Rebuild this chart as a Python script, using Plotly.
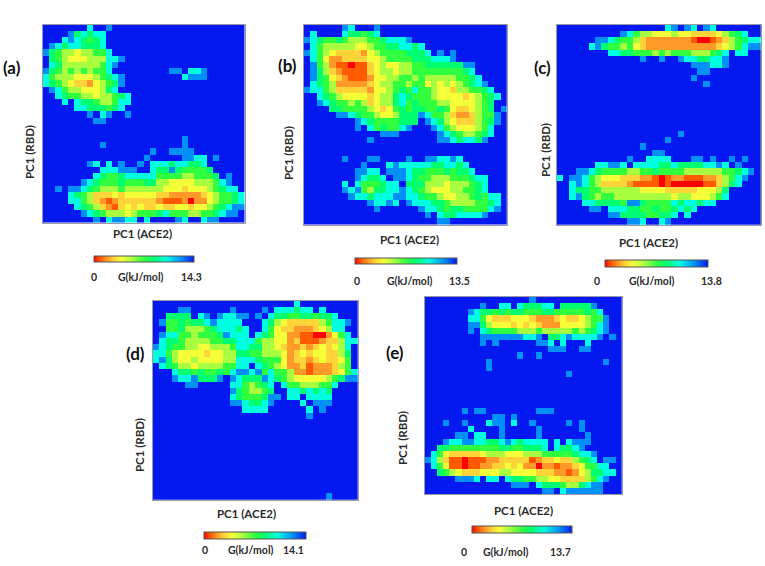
import plotly.graph_objects as go

W, H = 765, 566

# Free-energy maps: one character per cell, rows from the top.
# digits are energy bands (0 = lowest), '.' = the highest band.
PANEL_A = [
".......8..9","....978788","...8987678",".987887778","97655455668",".765444555889",".87555555689",
"97656565668.........99.889","8655544456789.........8999","8765433245679",".98655444578","..876655455678",
"...8.877655688",".....88777678",".......9.89..9","........99","","",
"......................9",".........9............9",".................9..9999","................9.....9988.9",
".......98.8.9..9.888788778",".........888999..8779766667","........87667888886666556667.9",
"......987666766677554444555689","..9.998765556555555444344456788","....8765333434444433222223456678",
"....8865321233333321112022456678",".....876532134343343344344567899","......9876555456667866655667899","........9.89988.8....98..899",
]
PANEL_B = [
"......98...9",".8....877678","98766765556678889",".865555544566778878","98654333324566667778.9.9",
".86422333344566667778889",".96521101134544556677777799",".97532111134554556666666678",
".976432111244556656555556678",".8765222223455665664545456789","988653333324456768665443556678",
"..87654444345578766654444345678","..9876656534557867666554444567","....77666654346767766764334567.9",
".....99876654457779866532235669","........9876666777.987543335679","........9.8676689...98654445 68".replace(" ",""),
"............999......9876556 78".replace(" ",""),"..........9..........99878879","","",
"......9...99....9..998898","................".replace("."*16,".........9...8988888778878"),"........9988.99987766676778",
"........98778.998766555666788","......8.8666788.7775554555678","......98965778898765444556678",
".......988788899887665445567688","..........98898.988877655556678","...........9......9887677666689",
"...................9.87788889",".....................99",
]
PANEL_C = [
".................89.98.98","..........98655444544333345678","......99876653222222210012356788",
".....897665643222222222223456899","........8877666565666555678.88",".............9..9..98877889",
".....................999889",
"......................99",".....................9",
".......................9","","","","","","","",
"...................9",".................9",".............9","...............99","...........9..8888...99.9..9.9",
"......88998.888877877778898.9","...9987666655667666655555566789",
"8.998654443332210122111223 5689".replace(" ",""),"..898653333211110100000113578",
"..877665555554444333334445 7".replace(" ",""),"..8976566555555555455444568",
"....887777699766668788788".replace(" ",""),".....99.88877667667878","........99777766778.8","...........998..89",
]
PANEL_D = [
"......................8",
"....99......9....9.888788.8","..7777.89.98899.9.87766776778",".966767789888 8...87543333356889".replace(" ",""),
"..667555678887 8..86433222345 88".replace(" ",""),".98866566679888.87644221100246 8".replace(" ",""),".87765555667788865544231112335 88".replace(" ",""),
"98766554455568877554322323 43458".replace(" ",""),"886544443445577665554234344 3357".replace(" ",""),"8975445444455888766642332 343346".replace(" ",""),
".87655455556688.87654223122 2356".replace(" ",""),"...8776766768998968665221222 3468".replace(" ",""),"...98897779.98777987654444456799",
".....99.....8865678.866555668","............9765567..8878787","............8766679 9.88.8888".replace(" ",""),
"............9987 789....8.999".replace(" ",""),"..............8888......8.9","........................9",
"","","","","","","","","","","","","...........................9",
]
PANEL_E = [
".................9",".........9..88.877788.777779",".......987767677666776666676 8".replace(" ",""),
".......88643334443222343 34566 9".replace(" ",""),".......9975444343432224 44456 89".replace(" ",""),".......9.87666655565555565678 9".replace(" ",""),
".........9999999889.778988889.9",".........9.9......998.8...8","....................999..99",
"...............9..9","..........9..................9","..........9",".......................9",
"","","","","",
"......9.99........999","...........99.9","...9..9...899.8..9.....9.9",".......8....9.....9......9",
".....99.88..9.....9.......9","...988998877898788 88.8.8999".replace(" ",""),"..7766666666776 67778.87789".replace(" ",""),
".864333334555444555666667889","98531101112233333123343356 78.99".replace(" ",""),".8641101122334342202212 23466 88".replace(" ",""),
"..7654333444554444333221 2 4577 88".replace(" ",""),".....9998.88.877665544333 35689".replace(" ",""),"..............999.877765 5 789 9".replace(" ",""),
"...................99.8999999",
]
PANELS = [PANEL_A, PANEL_B, PANEL_C, PANEL_D, PANEL_E]
PANEL_TAGS = ["(a)", "(b)", "(c)", "(d)", "(e)"]
G_MAX = [14.3, 13.5, 13.8, 14.1, 13.7]

BANDS = "0123456789."
BAND_FRACTION = [0, 0.06, 0.13, 0.20, 0.28, 0.38, 0.50, 0.60, 0.72, 0.87, 1.0]
BAND_COLOR = ["#ff0000", "#ff5a00", "#ff9a28", "#ffd438", "#f4ff38", "#a8ff40",
              "#30ff40", "#00ff70", "#00ffe0", "#0090f8", "#0418f0"]

# Layout in page pixels: left, right, top, bottom
BOXES = [(42.7, 244.7, 24.7, 222.7), (304, 506.7, 24.7, 224.7), (556.7, 761, 24.7, 225),
         (152.7, 358, 300.7, 500), (424.7, 622, 297, 494)]
TAG_POS = [(12, 68), (287, 65), (542, 68), (135, 353), (395, 352)]
XLAB_POS = [(142, 233), (409, 239), (648, 243), (246, 513), (523, 510)]
YLAB_POS = [(29, 152), (289, 153), (545, 150), (139, 445), (403, 438)]
BAR_BOX = [(94, 194, 257, 263), (355, 457, 259, 265), (605, 708, 261, 268), (204, 306, 533, 540), (472, 572, 527, 534)]
BAR_TEXT_Y = [277, 281, 281, 550, 552]
BAR_TEXT_X = [(94, 141, 191), (357, 410, 459), (597, 652, 711), (205, 251, 293), (464, 506, 560)]

scale = [[f, c] for f, c in zip(BAND_FRACTION, BAND_COLOR)]
FONT = "Lato, 'Open Sans', sans-serif"
px = lambda v: v / W
py = lambda v: 1 - v / H

fig = go.Figure()
ann = []
for i, rows in enumerate(PANELS):
    z = [[BAND_FRACTION[BANDS.index(c)] * G_MAX[i] for c in r.ljust(32, ".")[:32]] for r in rows]
    z = (z + [[G_MAX[i]] * 32] * 32)[:32]
    n = "" if i == 0 else str(i + 1)
    l, r_, t, b = BOXES[i]
    bl, br, bt, bb = BAR_BOX[i]
    fig.add_trace(go.Heatmap(
        z=z, xaxis="x" + n, yaxis="y" + n, zmin=0, zmax=G_MAX[i], colorscale=scale,
        hoverinfo="skip", showscale=True,
        colorbar=dict(orientation="h", x=px(bl), xanchor="left", y=py(bb), yanchor="bottom",
                      xref="paper", yref="paper", len=br - bl, lenmode="pixels",
                      thickness=bb - bt, thicknessmode="pixels", tickvals=[], showticklabels=False,
                      outlinecolor="#555555", outlinewidth=1, xpad=0, ypad=0, borderwidth=0),
    ))
    ax = dict(showticklabels=False, ticks="", showgrid=False, zeroline=False, mirror=True,
              showline=True, linecolor="#9a9aa8", linewidth=1)
    fig.update_layout({
        "xaxis" + n: dict(ax, domain=[px(l), px(r_)], range=[-0.5, 31.5], anchor="y" + n),
        "yaxis" + n: dict(ax, domain=[py(b), py(t)], range=[31.5, -0.5], anchor="x" + n),
    })
    def note(text, x, y, size, color="#2b2b2b", angle=0):
        ann.append(dict(text=f"<b>{text}</b>", x=px(x), y=py(y), xref="paper", yref="paper",
                        showarrow=False, xanchor="center", yanchor="middle", textangle=angle,
                        font=dict(family=FONT, size=size, color=color)))
    note(PANEL_TAGS[i], *TAG_POS[i], 17, "#111111")
    note("PC1 (ACE2)", *XLAB_POS[i], 11.5)
    note("PC1 (RBD)", *YLAB_POS[i], 11.5, angle=-90)
    tx = BAR_TEXT_X[i]
    ty = BAR_TEXT_Y[i]
    note("0", tx[0], ty, 10.5)
    note("G(kJ/mol)", tx[1], ty, 10.5)
    note(str(G_MAX[i]), tx[2], ty, 10.5)

fig.update_layout(width=W, height=H, margin=dict(l=0, r=0, t=0, b=0), paper_bgcolor="white",
                  plot_bgcolor="white", annotations=ann, showlegend=False)
fig.write_html("out.html", config={"displayModeBar": False}, post_script="document.body.style.margin='0';")
